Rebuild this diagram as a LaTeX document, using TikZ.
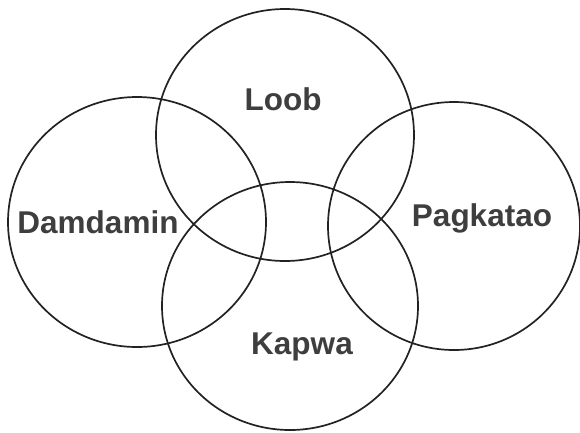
\documentclass[tikz,border=0pt]{standalone}
\usepackage{fontspec}
\setsansfont{Liberation Sans}
\definecolor{ink}{HTML}{222222}
\definecolor{word}{HTML}{3E3E3E}

\begin{document}
\begin{tikzpicture}[x=1pt,y=-1pt]

  \useasboundingbox (0,0) rectangle (580,432);

  \coordinate (L) at (285,135);
  \coordinate (D) at (137,222);
  \coordinate (P) at (454,226);
  \coordinate (K) at (290,306);

  \tikzset{ring/.style={ink, line width=1.7pt},
           lbl/.style={word, anchor=base, inner sep=0pt,
                       font=\fontsize{31.5}{38}\selectfont\sffamily\bfseries}}

  \draw [ring] (L) ellipse [x radius=129, y radius=126];
  \draw [ring] (D) ellipse [x radius=129, y radius=125];
  \draw [ring] (P) ellipse [x radius=126, y radius=124];
  \draw [ring] (K) ellipse [x radius=128, y radius=124];

  \node [lbl] (loob) at (283,110) {Loob};
  \node [lbl] (damdamin) at (98,233) {Damdamin};
  \node [lbl] (pagkatao) at (482,226) {Pagkatao};
  \node [lbl] (kapwa) at (302,354) {Kapwa};

\end{tikzpicture}
\end{document}
